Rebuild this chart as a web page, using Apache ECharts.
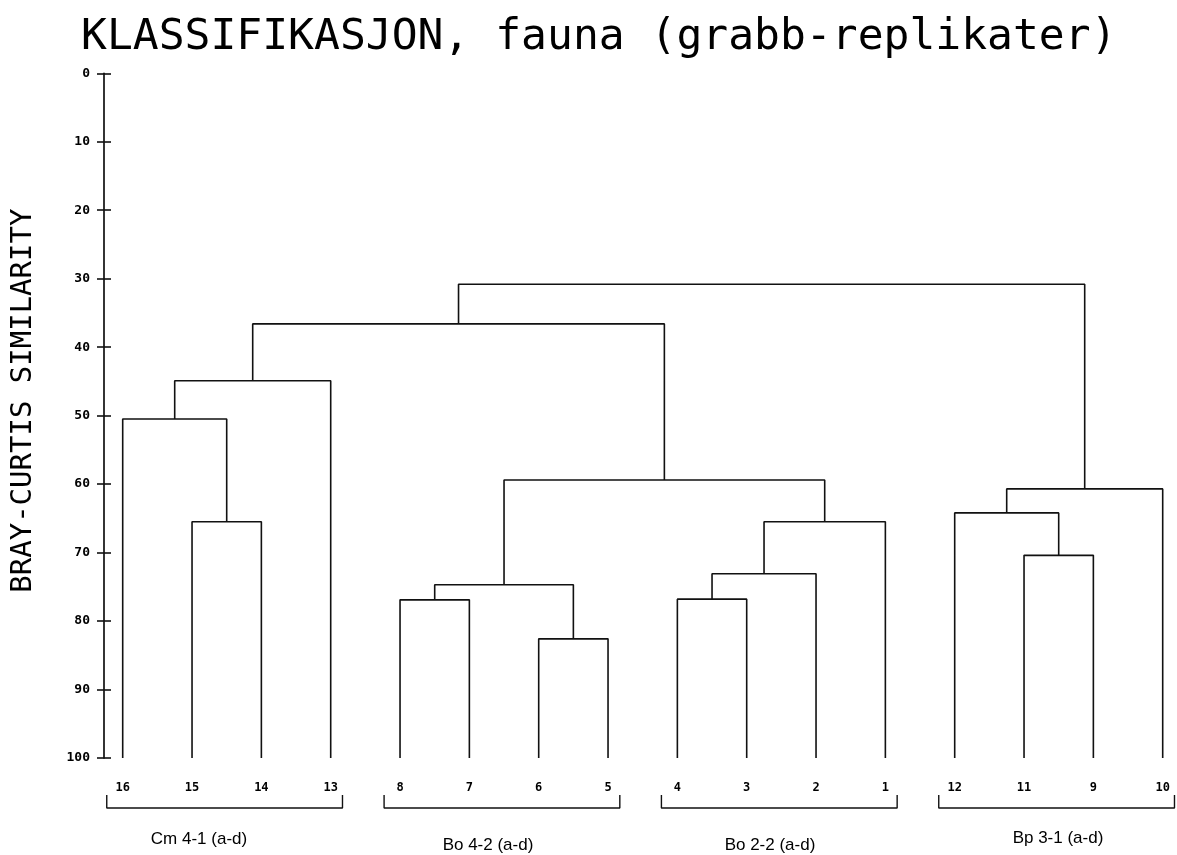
<!DOCTYPE html>
<html><head><meta charset="utf-8">
<script src="https://cdn.jsdelivr.net/npm/echarts@6/dist/echarts.min.js"></script>
<style>html,body{margin:0;padding:0;background:#fff}#c{width:1177px;height:855px}</style>
</head><body><div id="c"></div>
<script>
// Leaves in display order (left to right)
const leafLabels = ['16','15','14','13','8','7','6','5','4','3','2','1','12','11','9','10'];
// Merges: node ids 0-15 = leaves by position, 16+k = result of merge k
const mergeLeft   = [1, 0, 17, 4, 6, 19, 8, 22, 23, 21, 18, 13, 12, 28, 26];
const mergeRight  = [2, 16, 3, 5, 7, 20, 9, 10, 11, 24, 25, 14, 27, 15, 29];
const mergeHeight = [65.5, 50.5, 44.9, 76.9, 82.6, 74.7, 76.8, 73.1, 65.5, 59.4, 36.6, 70.4, 64.2, 60.7, 30.8];
// Sample groups (leaf position ranges)
const groupNames = ['Cm 4-1 (a-d)', 'Bo 4-2 (a-d)', 'Bo 2-2 (a-d)', 'Bp 3-1 (a-d)'];
const groupFirst = [0, 4, 8, 12];
const groupLast  = [3, 7, 11, 15];
const yTickValues = [0, 10, 20, 30, 40, 50, 60, 70, 80, 90, 100];

// ---- layout ----
const W = 1177, H = 855;
const leafStep = 69.33;
const xExtra = 0.2;
const gridLeft = 104, gridTop = 73.3, gridBottom = H - 758;
const gridRight = W - (1162.7 + xExtra * leafStep);
const xMin = -(122.7 - gridLeft) / leafStep;
const xMax = leafLabels.length - 1 + xExtra;
const bracketY = 107.3, bracketTickY = 105.4, bracketPadL = 0.23, bracketPadR = 0.17;
const groupLabelPos = [[199, 839], [488, 845], [770, 845], [1058, 838]];

const nodeX = leafLabels.map((_, i) => i);
const nodeY = leafLabels.map(() => 100);
const series = [];
const lineStyle = { color: '#111', width: 1.6 };
for (let k = 0; k < mergeHeight.length; k++) {
  const l = mergeLeft[k], r = mergeRight[k], h = mergeHeight[k];
  series.push({
    type: 'line', symbol: 'none', silent: true, animation: false, clip: false,
    lineStyle, xAxisIndex: 0, yAxisIndex: 0,
    data: [[nodeX[l], nodeY[l]], [nodeX[l], h], [nodeX[r], h], [nodeX[r], nodeY[r]]]
  });
  nodeX.push((nodeX[l] + nodeX[r]) / 2);
  nodeY.push(h);
}
for (let g = 0; g < groupNames.length; g++) {
  const a = groupFirst[g] - bracketPadL, b = groupLast[g] + bracketPadR;
  series.push({
    type: 'line', symbol: 'none', silent: true, animation: false, clip: false,
    lineStyle: { color: '#111', width: 1.4 }, xAxisIndex: 0, yAxisIndex: 0,
    data: [[a, bracketTickY], [a, bracketY], [b, bracketY], [b, bracketTickY]]
  });
}

const chart = echarts.init(document.getElementById('c'), null, { renderer: 'canvas' });
chart.setOption({
  backgroundColor: '#fff',
  animation: false,
  title: {
    text: 'KLASSIFIKASJON, fauna (grabb-replikater)',
    left: 76, top: 11,
    textStyle: { fontFamily: 'DejaVu Sans Mono', fontSize: 43, fontWeight: 'normal', color: '#000' }
  },
  grid: { left: gridLeft, top: gridTop, right: gridRight, bottom: gridBottom, containLabel: false },
  xAxis: {
    type: 'value', min: xMin, max: xMax,
    axisLine: { show: false, onZero: false }, axisTick: { show: false }, splitLine: { show: false },
    axisLabel: {
      customValues: leafLabels.map((_, i) => i),
      formatter: v => leafLabels[Math.round(v)] || '',
      margin: 24, fontFamily: 'DejaVu Sans Mono', fontWeight: 'bold', fontSize: 12, color: '#000'
    }
  },
  yAxis: [{
    type: 'value', inverse: true, min: 0, max: 100, interval: 10,
    name: 'BRAY-CURTIS SIMILARITY', nameLocation: 'middle', nameGap: 66, nameRotate: 90,
    nameTextStyle: { fontFamily: 'DejaVu Sans Mono', fontSize: 29, color: '#000', padding: [0, 0, 0, 30] },
    axisLine: { show: true, onZero: false, lineStyle: { color: '#111', width: 1.7 } },
    axisTick: { show: true, inside: false, length: 7, lineStyle: { color: '#111', width: 1.6 } },
    axisLabel: {
      customValues: yTickValues,
      margin: 14, fontFamily: 'DejaVu Sans Mono', fontWeight: 'bold', fontSize: 13, color: '#000'
    },
    splitLine: { show: false }
  }, {
    type: 'value', inverse: true, min: 0, max: 100, interval: 10, position: 'left',
    axisLine: { show: false, onZero: false },
    axisTick: { show: true, inside: true, length: 7, lineStyle: { color: '#111', width: 1.6 } },
    axisLabel: { show: false }, splitLine: { show: false }
  }],
  series,
  graphic: groupNames.map((name, g) => ({
    type: 'text', x: groupLabelPos[g][0], y: groupLabelPos[g][1], silent: true,
    style: { text: name, fontFamily: 'Liberation Sans', fontSize: 17, fill: '#000',
             textAlign: 'center', textVerticalAlign: 'middle' }
  }))
});
</script></body></html>
